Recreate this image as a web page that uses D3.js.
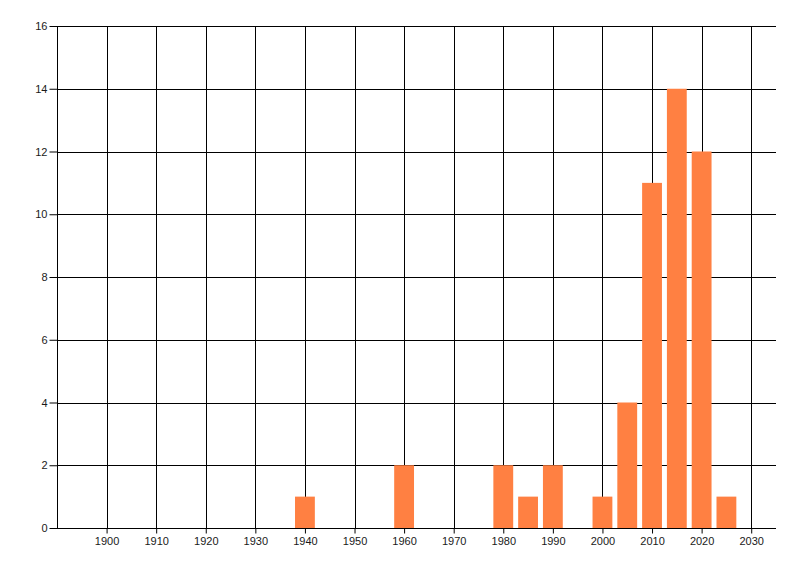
<!DOCTYPE html>
<html>
<head>
<meta charset="utf-8">
<script src="https://cdn.jsdelivr.net/npm/d3@7"></script>
<style>
  html, body { margin: 0; padding: 0; background: #fff; }
  svg { display: block; }
  text { font-family: "Liberation Sans", Arial, sans-serif; font-size: 11px; fill: #1a1a1a; }
</style>
</head>
<body>
<svg id="chart" width="800" height="576"></svg>
<script>
const years = [1940, 1960, 1980, 1985, 1990, 2000, 2005, 2010, 2015, 2020, 2025];
const counts = [1, 2, 2, 1, 2, 1, 4, 11, 14, 12, 1];
const xTickValues = [1900, 1910, 1920, 1930, 1940, 1950, 1960, 1970, 1980, 1990, 2000, 2010, 2020, 2030];
const yTickValues = [0, 2, 4, 6, 8, 10, 12, 14, 16];

(function () {
const svg = d3.select("#chart");
const pLeft = 57, pRight = 776, pTop = 26, pBottom = 528;

const x = d3.scaleLinear().domain([1890, 2035]).range([pLeft, pRight]);
const y = d3.scaleLinear().domain([0, 16]).range([pBottom, pTop]);
const barYears = 4;

// grid lines
const grid = svg.append("g");
grid.selectAll("line.h").data(yTickValues).join("line")
  .attr("x1", pLeft).attr("x2", pRight)
  .attr("y1", d => Math.round(y(d)) + 0.5).attr("y2", d => Math.round(y(d)) + 0.5)
  .attr("stroke", "#000").attr("stroke-width", 1);
grid.selectAll("line.v").data(xTickValues).join("line")
  .attr("x1", d => Math.round(x(d)) + 0.5).attr("x2", d => Math.round(x(d)) + 0.5)
  .attr("y1", pTop).attr("y2", pBottom)
  .attr("stroke", "#000").attr("stroke-width", 1);

// bars
svg.append("g").selectAll("rect").data(years.map((yr, i) => ({yr, v: counts[i]}))).join("rect")
  .attr("x", d => x(d.yr - barYears / 2))
  .attr("width", d => x(d.yr + barYears / 2) - x(d.yr - barYears / 2))
  .attr("y", d => y(d.v))
  .attr("height", d => y(0) - y(d.v))
  .attr("fill", "#ff8042");

// axes
const xAxis = d3.axisBottom(x).tickValues(xTickValues).tickFormat(d3.format("d")).tickSize(5).tickPadding(4);
const gx = svg.append("g").attr("transform", `translate(0,${Math.round(y(0)) + 0.5})`).call(xAxis);
gx.select(".domain").attr("d", `M${pLeft},0H${pRight}`).attr("stroke", "#000");
gx.selectAll(".tick line").attr("stroke", "#000");
gx.selectAll("text").attr("fill", "#1a1a1a").style("font-size", "11px").style("font-family", '"Liberation Sans", Arial, sans-serif');

const yAxis = d3.axisLeft(y).tickValues(yTickValues).tickSize(8).tickPadding(2);
const gy = svg.append("g").attr("transform", `translate(${pLeft + 0.5},0)`).call(yAxis);
gy.select(".domain").attr("d", `M0,${pTop}V${pBottom}`).attr("stroke", "#000");
gy.selectAll(".tick line").attr("stroke", "#000");
gy.selectAll("text").attr("fill", "#1a1a1a").style("font-size", "11px").style("font-family", '"Liberation Sans", Arial, sans-serif');
})();
</script>
</body>
</html>
